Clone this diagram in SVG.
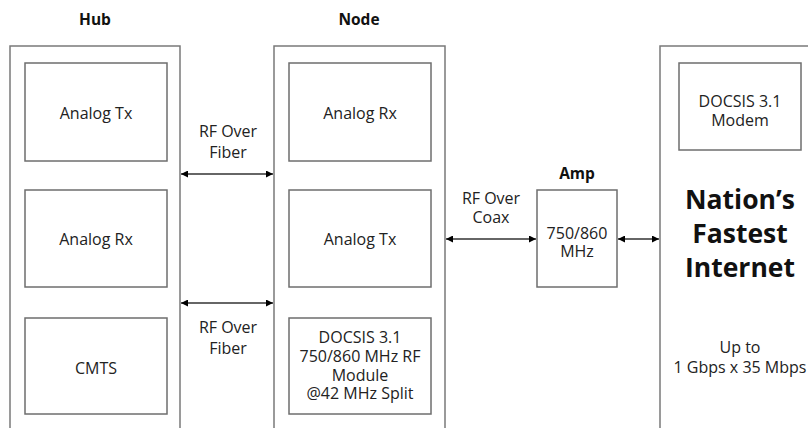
<svg xmlns="http://www.w3.org/2000/svg" width="808" height="428" viewBox="0 0 808 428">
<defs>
<style>
.frame{fill:none;stroke:#7a7a7a;stroke-width:1.5}
.box{fill:#fff;stroke:#6e6e6e;stroke-width:1.5}
.t{font-family:"Open Sans","Noto Sans","Liberation Sans",sans-serif;font-size:16px;fill:#222;text-anchor:middle}
.h{font-family:"Open Sans","Noto Sans","Liberation Sans",sans-serif;font-size:15.5px;font-weight:bold;fill:#111;text-anchor:middle}
.big{font-family:"Open Sans","Noto Sans","Liberation Sans",sans-serif;font-size:26.5px;font-weight:bold;fill:#111;text-anchor:middle}
.c{stroke:#333;stroke-width:1.5;fill:none;marker-start:url(#ah);marker-end:url(#ah)}
</style>
<marker id="ah" viewBox="0 0 10 10" refX="10" refY="5" markerWidth="7" markerHeight="7" markerUnits="userSpaceOnUse" orient="auto-start-reverse">
<path d="M0,0 L10,5 L0,10 z" fill="#000"/>
</marker>
</defs>
<rect width="808" height="428" fill="#fff"/>

<g id="hub">
<text class="h" x="95" y="25">Hub</text>
<path class="frame" d="M10,428 V46 H180 V428"/>
<g id="hub-analog-tx"><rect class="box" x="25" y="63" width="142" height="98"/><text class="t" x="96" y="119">Analog Tx</text></g>
<g id="hub-analog-rx"><rect class="box" x="25" y="190" width="142" height="97"/><text class="t" x="96" y="245">Analog Rx</text></g>
<g id="hub-cmts"><rect class="box" x="25" y="318" width="142" height="96"/><text class="t" x="96" y="374">CMTS</text></g>
</g>

<g id="node">
<text class="h" x="359" y="25">Node</text>
<path class="frame" d="M274,428 V46 H445 V428"/>
<g id="node-analog-rx"><rect class="box" x="289" y="63" width="142" height="98"/><text class="t" x="360" y="119">Analog Rx</text></g>
<g id="node-analog-tx"><rect class="box" x="289" y="190" width="142" height="97"/><text class="t" x="360" y="245">Analog Tx</text></g>
<g id="node-docsis"><rect class="box" x="289" y="318" width="142" height="96"/>
<text class="t" x="360" y="343">DOCSIS 3.1</text>
<text class="t" x="360" y="362">750/860 MHz RF</text>
<text class="t" x="360" y="381">Module</text>
<text class="t" x="360" y="399">@42 MHz Split</text></g>
</g>

<g id="amp">
<text class="h" x="577" y="179">Amp</text>
<rect class="box" x="537" y="190" width="80" height="97"/>
<text class="t" x="577" y="239">750/860</text>
<text class="t" x="577" y="257">MHz</text>
</g>

<g id="home">
<path class="frame" d="M660,428 V46 H810"/>
<g id="modem"><rect class="box" x="679" y="63" width="122" height="87"/>
<text class="t" x="740" y="107">DOCSIS 3.1</text>
<text class="t" x="740" y="126">Modem</text></g>
<text class="big" x="740" y="209">Nation’s</text>
<text class="big" x="740" y="243">Fastest</text>
<text class="big" x="740" y="277">Internet</text>
<text class="t" x="740" y="353">Up to</text>
<text class="t" x="740" y="373">1 Gbps x 35 Mbps</text>
</g>

<g id="connectors">
<line class="c" x1="181" y1="174" x2="273" y2="174"/>
<line class="c" x1="181" y1="303" x2="273" y2="303"/>
<line class="c" x1="446" y1="239" x2="536" y2="239"/>
<line class="c" x1="618" y1="239" x2="659" y2="239"/>
<text class="t" x="228" y="137">RF Over</text>
<text class="t" x="228" y="158">Fiber</text>
<text class="t" x="228" y="333">RF Over</text>
<text class="t" x="228" y="354">Fiber</text>
<text class="t" x="491" y="204">RF Over</text>
<text class="t" x="491" y="223">Coax</text>
</g>
</svg>
